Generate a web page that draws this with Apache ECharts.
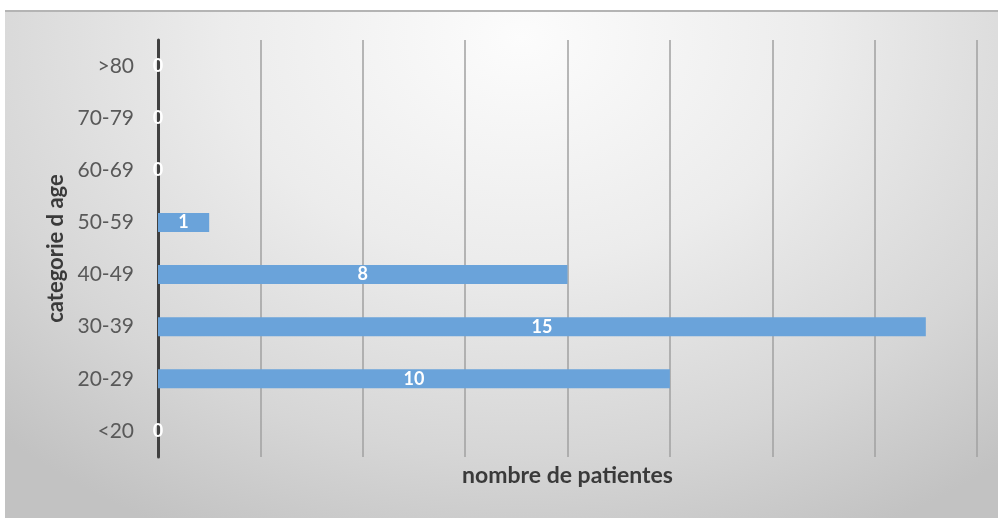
<!DOCTYPE html>
<html>
<head>
<meta charset="utf-8">
<script src="https://cdn.jsdelivr.net/npm/echarts@6/dist/echarts.min.js"></script>
<style>
html,body{margin:0;padding:0;background:#fff;width:998px;height:518px;overflow:hidden;}
#bg{position:absolute;left:5px;top:10px;width:993px;height:508px;border-top:2px solid #b4b4b4;box-sizing:border-box;
background:radial-gradient(ellipse 75% 110% at 52% 5%, #fcfcfc 0%, #ececec 40%, #d6d6d6 75%, #c2c2c2 100%);}
#chart{position:absolute;left:0;top:0;width:998px;height:518px;}
</style>
</head>
<body>
<div id="bg"></div>
<div id="chart"></div>
<script>
const categories = ['<20', '20-29', '30-39', '40-49', '50-59', '60-69', '70-79', '>80'];
const patients = [0, 10, 15, 8, 1, 0, 0, 0];
const xAxisTitle = 'nombre de patientes';
const yAxisTitle = 'categorie d age';

const chart = echarts.init(document.getElementById('chart'), null, {renderer: 'canvas'});
chart.setOption({
  backgroundColor: 'transparent',
  animation: false,
  textStyle: {fontFamily: 'Lato'},
  grid: {left: 158, right: 21, top: 40, bottom: 61, containLabel: false},
  xAxis: {
    type: 'value', min: 0, max: 16, interval: 2,
    name: xAxisTitle, nameLocation: 'middle', nameGap: 7,
    nameTextStyle: {fontFamily: 'Lato', fontWeight: 'bold', fontSize: 23, color: '#3a3a3a', verticalAlign: 'top'},
    axisLine: {show: false}, axisTick: {show: false}, axisLabel: {show: false},
    splitLine: {show: true, lineStyle: {color: '#a0a0a0', width: 1.5}}
  },
  yAxis: {
    type: 'category', data: categories,
    name: yAxisTitle, nameLocation: 'middle', nameGap: 90, nameRotate: 90,
    nameTextStyle: {fontFamily: 'Lato', fontWeight: 'bold', fontSize: 22, color: '#3a3a3a'},
    axisLine: {show: true, lineStyle: {color: '#404040', width: 3}},
    axisTick: {show: false},
    axisLabel: {color: '#595959', fontSize: 21, margin: 24, fontFamily: 'Lato'},
    splitLine: {show: false}
  },
  series: [{
    type: 'bar', data: patients, barWidth: 19,
    itemStyle: {color: '#6aa3da'},
    label: {show: true, position: 'inside', color: '#fff', fontWeight: 'bold', fontSize: 18, fontFamily: 'Lato'}
  }]
});
</script>
</body>
</html>
